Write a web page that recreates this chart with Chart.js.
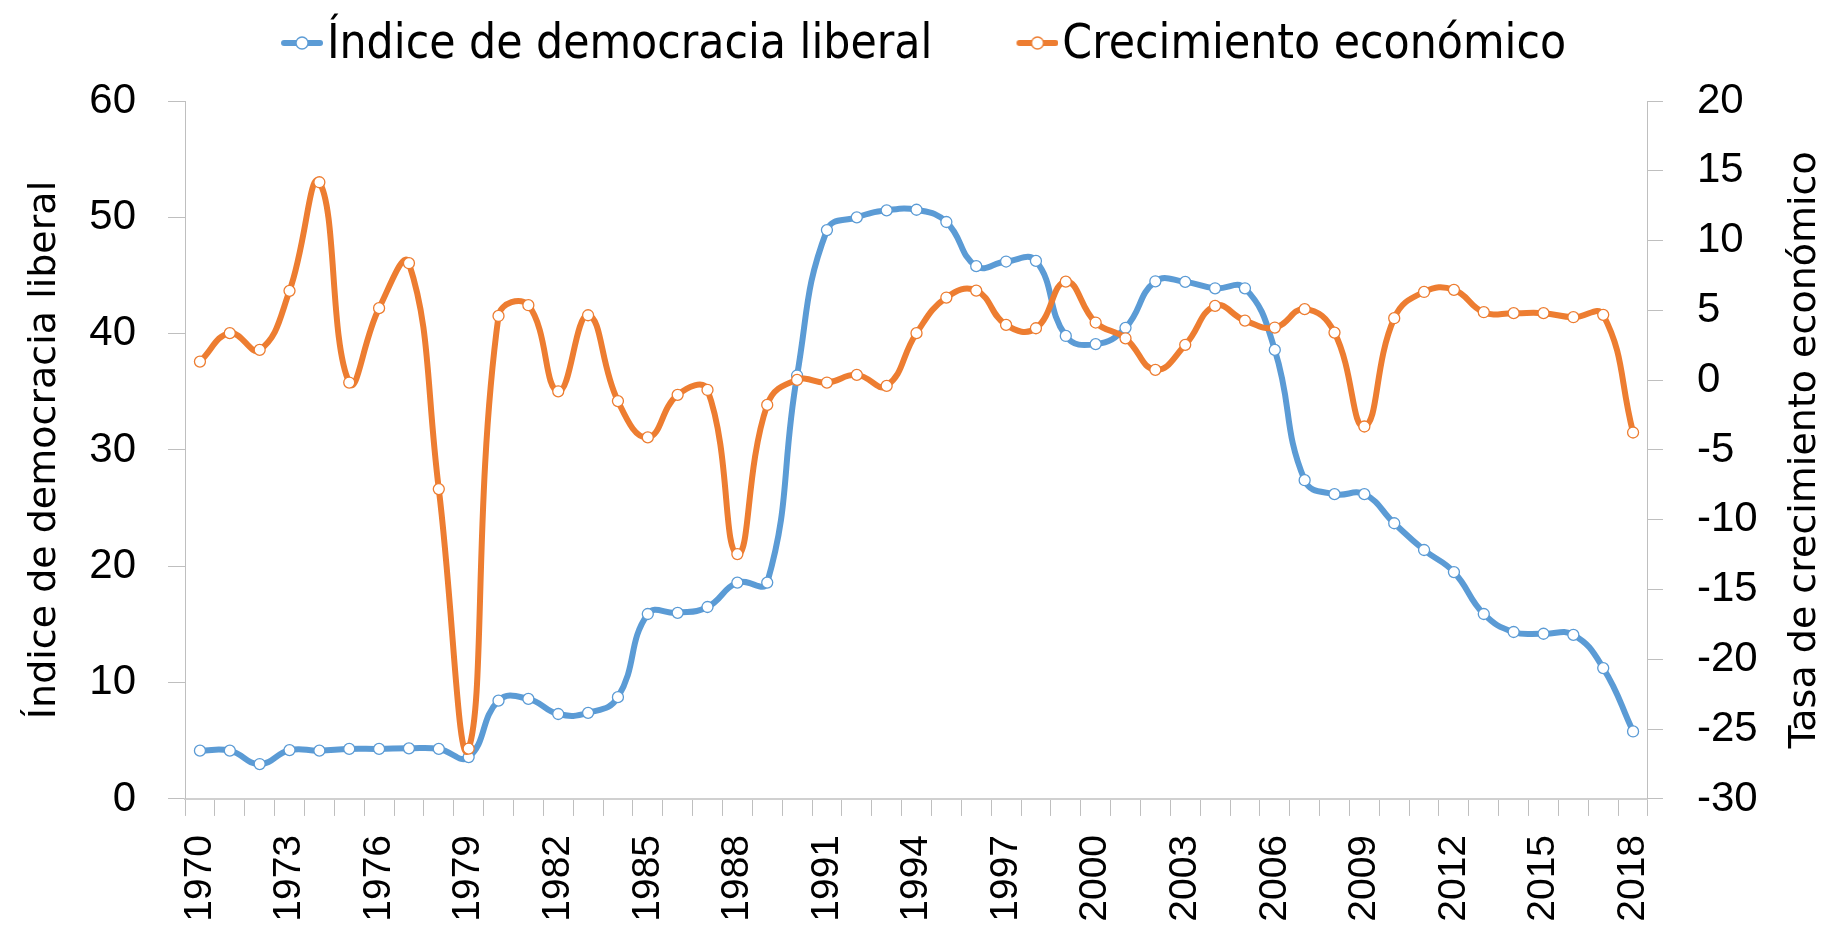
<!DOCTYPE html>
<html>
<head>
<meta charset="utf-8">
<script src="https://cdn.jsdelivr.net/npm/chart.js@4"></script>
<style>
  html, body { margin: 0; padding: 0; background: #fff; }
</style>
</head>
<body>
<canvas id="chart" width="1832" height="937"></canvas>
<script>
// años del eje x
var years = ['1970', '1971', '1972', '1973', '1974', '1975', '1976', '1977', '1978', '1979',
             '1980', '1981', '1982', '1983', '1984', '1985', '1986', '1987', '1988', '1989',
             '1990', '1991', '1992', '1993', '1994', '1995', '1996', '1997', '1998', '1999',
             '2000', '2001', '2002', '2003', '2004', '2005', '2006', '2007', '2008', '2009',
             '2010', '2011', '2012', '2013', '2014', '2015', '2016', '2017', '2018'];

// eje izquierdo (0-60)
var democracia = [4.15, 4.15, 3.0, 4.2, 4.15, 4.3, 4.3, 4.35, 4.3, 3.6,
                  8.45, 8.6, 7.3, 7.4, 8.75, 15.9, 16.0, 16.5, 18.6, 18.6,
                  36.4, 48.9, 50.0, 50.6, 50.65, 49.6, 45.8, 46.2, 46.25, 39.8,
                  39.1, 40.5, 44.5, 44.45, 43.9, 43.9, 38.6, 27.4, 26.2, 26.2,
                  23.7, 21.4, 19.5, 15.9, 14.35, 14.2, 14.1, 11.25, 5.8];

// eje derecho (-30 a 20)
var crecimiento = [1.33, 3.37, 2.17, 6.4, 14.18, -0.17, 5.16, 8.38, -7.8, -26.4,
                   4.6, 5.37, -0.8, 4.65, -1.5, -4.1, -1.05, -0.7, -12.46, -1.77,
                   0.02, -0.17, 0.38, -0.41, 3.37, 5.92, 6.42, 3.96, 3.72, 7.06,
                   4.13, 3.0, 0.74, 2.53, 5.32, 4.27, 3.77, 5.09, 3.41, -3.32,
                   4.44, 6.32, 6.47, 4.87, 4.8, 4.8, 4.51, 4.68, -3.75];

var seriesNames = ['Índice de democracia liberal', 'Crecimiento económico'];
var seriesColors = ['#5B9BD5', '#ED7D31'];
var axisTitles = ['Índice de democracia liberal', 'Tasa de crecimiento económico'];

var condensed = "'DejaVu Sans Condensed', 'DejaVu Sans', sans-serif";
var sans = "'Liberation Sans', Arial, sans-serif";
var titleFont = "'DejaVu Sans', sans-serif";

// line + circle marker for the legend
function legendMarker(color) {
    var c = document.createElement('canvas');
    c.width = 77;
    c.height = 30;
    var g = c.getContext('2d');
    g.strokeStyle = color;
    g.lineWidth = 6;
    g.lineCap = 'round';
    g.beginPath();
    g.moveTo(38, 12);
    g.lineTo(74, 12);
    g.stroke();
    g.beginPath();
    g.arc(56, 12, 6, 0, Math.PI * 2);
    g.fillStyle = '#fff';
    g.fill();
    g.lineWidth = 1.3;
    g.stroke();
    return c;
}
var markers = seriesColors.map(legendMarker);

// the right title reads bottom to top, as on the left
var rightTitle = {
    id: 'rightTitle',
    afterDraw: function(chart) {
        var s = chart.scales.y2;
        var c = chart.ctx;
        c.save();
        c.translate(s.right - 4 - 22.8, (s.top + s.bottom) / 2);
        c.rotate(-Math.PI / 2);
        c.textAlign = 'center';
        c.textBaseline = 'middle';
        c.fillStyle = '#000';
        c.font = '38px ' + titleFont;
        c.fillText(axisTitles[1], 0, 0);
        c.restore();
    }
};

var ctx = document.getElementById('chart');
var chart = new Chart(ctx, {
    type: 'line',
    data: {
        labels: years,
        datasets: [{
            label: seriesNames[0],
            data: democracia,
            yAxisID: 'y',
            order: 1,
            borderColor: seriesColors[0],
            borderWidth: 6,
            tension: 0.45,
            pointRadius: 5.5,
            pointBorderWidth: 1.3,
            pointBackgroundColor: '#fff',
            pointBorderColor: seriesColors[0]
        }, {
            label: seriesNames[1],
            data: crecimiento,
            yAxisID: 'y2',
            order: 0,
            borderColor: seriesColors[1],
            borderWidth: 6,
            tension: 0.45,
            pointRadius: 5.5,
            pointBorderWidth: 1.3,
            pointBackgroundColor: '#fff',
            pointBorderColor: seriesColors[1]
        }]
    },
    options: {
        responsive: false,
        animation: false,
        devicePixelRatio: 1,
        layout: {padding: {top: -46.75, left: 0, right: 0, bottom: -3.7}},
        plugins: {
            tooltip: {enabled: false},
            legend: {
                position: 'top',
                labels: {
                    usePointStyle: true,
                    pointStyleWidth: 37.25,
                    padding: 69,
                    color: '#000',
                    font: {family: condensed, size: 47.5},
                    sort: function(a, b) { return a.datasetIndex - b.datasetIndex; },
                    generateLabels: function(chart) {
                        var items = Chart.defaults.plugins.legend.labels.generateLabels(chart);
                        items.forEach(function(it) { it.pointStyle = markers[it.datasetIndex]; });
                        return items;
                    }
                }
            },
            // empty spacer between the legend and the plot
            subtitle: {
                display: true,
                text: '',
                position: 'top',
                weight: 500,
                font: {size: 10, lineHeight: 1.25},
                padding: {top: 4.5, bottom: 4.25}
            }
        },
        scales: {
            x: {
                offset: true,
                grid: {offset: true, drawOnChartArea: false, tickLength: 17, color: '#bfbfbf'},
                border: {color: '#d0d0d0', width: 2},
                ticks: {
                    autoSkip: false,
                    minRotation: 90,
                    maxRotation: 90,
                    padding: 19,
                    color: '#000',
                    font: {family: sans, size: 39},
                    callback: function(val, i) { return i % 3 === 0 ? this.getLabelForValue(val) : ''; }
                }
            },
            y: {
                position: 'left',
                min: 0,
                max: 60,
                ticks: {stepSize: 10, padding: 32, color: '#000', font: {family: sans, size: 42}},
                grid: {drawOnChartArea: false, tickLength: 17, color: '#bfbfbf'},
                border: {color: '#bfbfbf', width: 1},
                title: {
                    display: true,
                    text: axisTitles[0],
                    color: '#000',
                    font: {family: titleFont, size: 38},
                    padding: {top: 22, bottom: -10.3}
                }
            },
            y2: {
                position: 'right',
                min: -30,
                max: 20,
                ticks: {stepSize: 5, padding: 34, color: '#000', font: {family: sans, size: 42}},
                grid: {drawOnChartArea: false, tickLength: 15, color: '#bfbfbf'},
                border: {color: '#bfbfbf', width: 1},
                title: {
                    display: true,
                    text: axisTitles[1],
                    color: 'rgba(0,0,0,0)',
                    font: {family: titleFont, size: 38},
                    padding: {top: 4, bottom: -9.3}
                }
            }
        }
    },
    plugins: [rightTitle]
});
</script>
</body>
</html>
